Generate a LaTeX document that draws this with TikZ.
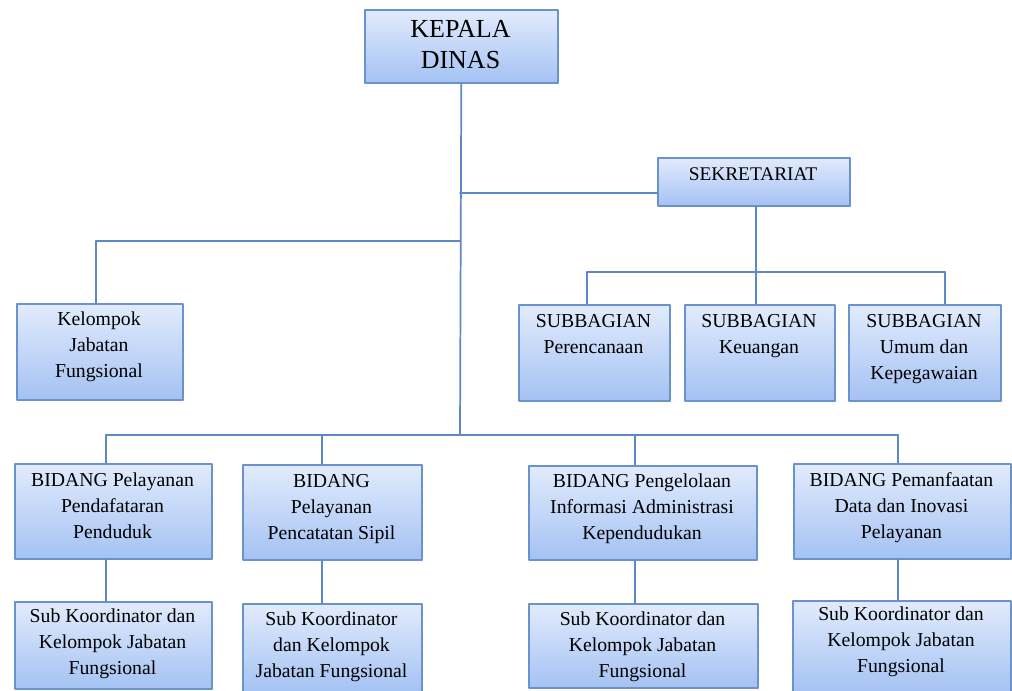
\documentclass[tikz,border=0pt]{standalone}
\usepackage{fontspec}
\setmainfont{Liberation Serif}
\usetikzlibrary{shadows}
\definecolor{boxtop}{HTML}{E2EBFC}
\definecolor{boxbot}{HTML}{A4C2F3}
\definecolor{boxline}{HTML}{6A92CB}
\definecolor{linkline}{HTML}{5C88C6}
\tikzset{
  unit/.style={draw=boxline,line width=1.2pt,top color=boxtop,bottom color=boxbot,
    drop shadow={shadow xshift=1.2pt,shadow yshift=-1.2pt,opacity=0.3},
    anchor=north west,inner sep=0pt},
  unittext/.style={anchor=base,align=center,inner sep=0pt,
    font=\fontsize{14.8}{19.5}\selectfont},
  link/.style={draw=linkline,line width=1.3pt}
}
% box: name, left, top, width, height (pixels)
\newcommand{\orgunit}[5]{\node[unit,minimum width=#4*0.75pt,minimum height=#5*0.75pt] (#1) at (#2,#3) {};}
\begin{document}
\begin{tikzpicture}[line cap=round,line join=round,x=0.75pt,y=-0.75pt]
\useasboundingbox (0,0) rectangle (1012,690);
% boxes
\orgunit{kepala}{364}{9}{193}{73}
\orgunit{sekre}{657}{157}{192}{48}
\orgunit{kjf}{16}{303}{166}{96}
\orgunit{sb1}{518}{304}{151}{96}
\orgunit{sb2}{684}{304}{150}{96}
\orgunit{sb3}{848}{304}{152}{96}
\orgunit{bid1}{14}{463}{197}{95}
\orgunit{bid2}{242}{464}{179}{95}
\orgunit{bid3}{528}{465}{228}{94}
\orgunit{bid4}{793}{463}{217}{95}
\orgunit{sk1}{14}{601}{197}{87}
\orgunit{sk2}{242}{603}{179}{88}
\orgunit{sk3}{528}{603}{229}{84}
\orgunit{sk4}{792}{600}{218}{92}
% texts (at the baseline of the last line)
\node[unittext,font=\fontsize{19.5}{23.25}\selectfont] (kepalaT) at (460.5,68) {KEPALA\\DINAS};
\node[unittext,font=\fontsize{14.5}{19.5}\selectfont] (sekreT) at (753,180) {SEKRETARIAT};
\node[unittext] (kjfT) at (99,377) {Kelompok\\Jabatan\\Fungsional};
\node[unittext] (sb1T) at (593.5,353) {SUBBAGIAN\\Perencanaan};
\node[unittext] (sb2T) at (759,353) {SUBBAGIAN\\Keuangan};
\node[unittext] (sb3T) at (924,379) {SUBBAGIAN\\Umum dan\\Kepegawaian};
\node[unittext] (bid1T) at (112.5,538) {BIDANG Pelayanan\\Pendafataran\\Penduduk};
\node[unittext] (bid2T) at (331.5,539) {BIDANG\\Pelayanan\\Pencatatan Sipil};
\node[unittext] (bid3T) at (642,539) {BIDANG Pengelolaan\\Informasi Administrasi\\Kependudukan};
\node[unittext] (bid4T) at (901.5,538) {BIDANG Pemanfaatan\\Data dan Inovasi\\Pelayanan};
\node[unittext] (sk1T) at (112.5,674) {Sub Koordinator dan\\Kelompok Jabatan\\Fungsional};
\node[unittext] (sk2T) at (331.5,677) {Sub Koordinator\\dan Kelompok\\Jabatan Fungsional};
\node[unittext] (sk3T) at (642.5,677) {Sub Koordinator dan\\Kelompok Jabatan\\Fungsional};
\node[unittext] (sk4T) at (901,672) {Sub Koordinator dan\\Kelompok Jabatan\\Fungsional};
% connectors
\coordinate (s0) at (460,193);
\coordinate (f0) at (460,241);
\coordinate (f1) at (96,241);
\coordinate (kbus) at (460,435);
\draw[link] (kepala.south) -- (kbus);
\draw[link] (s0) -- (s0 -| sekre.west);
\draw[link] (f0) -- (f1) -- (f1 |- kjf.north);
\coordinate (b0) at (756,272);
\coordinate (b1) at (587,272);
\coordinate (b3) at (945,272);
\draw[link] (b0 |- sekre.south) -- (b0);
\draw[link] (b1) -- (b3);
\draw[link] (b1) -- (b1 |- sb1.north);
\draw[link] (b0) -- (b0 |- sb2.north);
\draw[link] (b3) -- (b3 |- sb3.north);
\coordinate (m1) at (106,435);
\coordinate (m2) at (322,435);
\coordinate (m3) at (635,435);
\coordinate (m4) at (898,435);
\draw[link] (m1) -- (m4);
\foreach \i in {1,...,4} {
  \draw[link] (m\i) -- (m\i |- bid\i.north);
  \draw[link] (m\i |- bid\i.south) -- (m\i |- sk\i.north);
}
\end{tikzpicture}
\end{document}
